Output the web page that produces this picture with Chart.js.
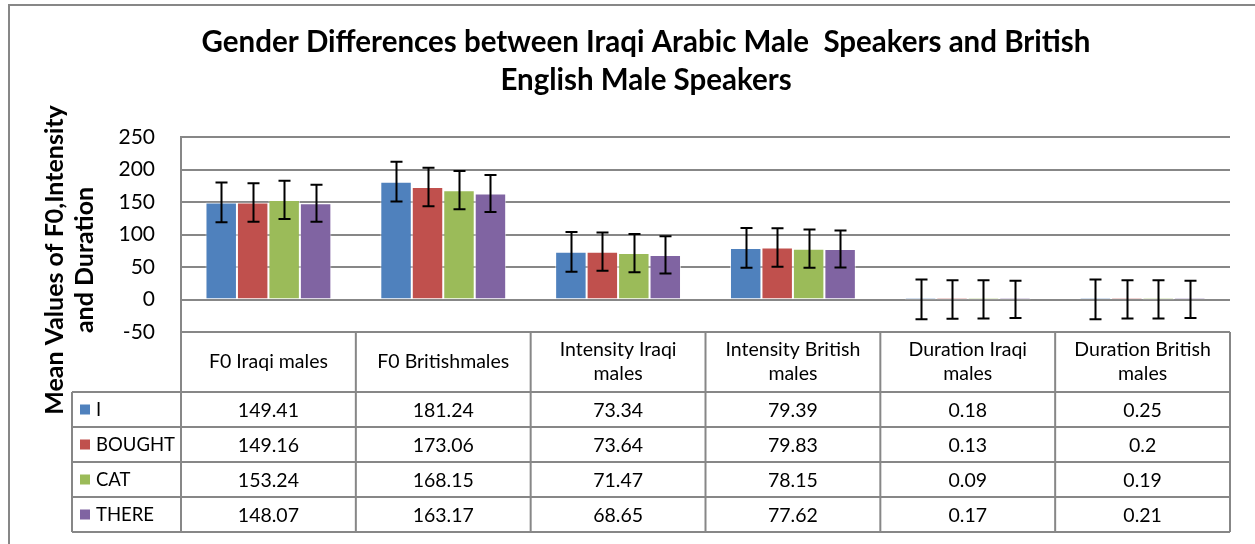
<!DOCTYPE html>
<html>
<head>
<meta charset="utf-8">
<script src="https://cdn.jsdelivr.net/npm/chart.js@4"></script>
<style>
  html, body { margin: 0; padding: 0; background: #fff; }
  #wrap { width: 1255px; height: 544px; }
</style>
</head>
<body>
<div id="wrap"><canvas id="chart" width="1255" height="544"></canvas></div>
<script>
// data
const categories = [
    ['F0 Iraqi males'],
    ['F0 Britishmales'],
    ['Intensity Iraqi', 'males'],
    ['Intensity British', 'males'],
    ['Duration Iraqi', 'males'],
    ['Duration British', 'males']
];
const seriesNames = ['I', 'BOUGHT', 'CAT', 'THERE'];
const valuesI = [149.41, 181.24, 73.34, 79.39, 0.18, 0.25];
const valuesBought = [149.16, 173.06, 73.64, 79.83, 0.13, 0.2];
const valuesCat = [153.24, 168.15, 71.47, 78.15, 0.09, 0.19];
const valuesThere = [148.07, 163.17, 68.65, 77.62, 0.17, 0.21];
// error bar sizes (standard error)
const errorSizes = [30.5, 29.6, 29.4, 28.5];
const seriesColors = ['#4F81BD', '#C0504D', '#9BBB59', '#8064A2'];
const yTicks = [250, 200, 150, 100, 50, 0, -50];

const titleLines = ['Gender Differences between Iraqi Arabic Male  Speakers and British', 'English Male Speakers'];
const yTitleLines = ['Mean Values of F0,Intensity', 'and Duration'];

const FONT = 'Lato, "Open Sans", sans-serif';
const LINE = '#878787';

const allValues = [valuesI, valuesBought, valuesCat, valuesThere];

// frame, titles
const decorPlugin = {
    id: 'decor',
    beforeDraw(chart) {
        const ctx = chart.ctx;
        ctx.save();
        ctx.strokeStyle = LINE;
        ctx.lineWidth = 2;
        ctx.strokeRect(9, 5, 1400, 700);

        ctx.fillStyle = '#000';
        ctx.font = 'bold 29.5px ' + FONT;
        ctx.textAlign = 'center';
        ctx.textBaseline = 'middle';
        ctx.fillText(titleLines[0], 646, 42);
        ctx.fillText(titleLines[1], 646, 80);

        ctx.font = 'bold 25px ' + FONT;
        ctx.save();
        ctx.translate(55, 260);
        ctx.rotate(-Math.PI / 2);
        ctx.fillText(yTitleLines[0], 0, 0);
        ctx.fillText(yTitleLines[1], 0, 30);
        ctx.restore();
        ctx.restore();
    }
};

// error bars
const errorBarPlugin = {
    id: 'errorBars',
    afterDatasetsDraw(chart) {
        const ctx = chart.ctx;
        const y = chart.scales.y;
        ctx.save();
        ctx.strokeStyle = '#000';
        ctx.lineWidth = 2;
        chart.data.datasets.forEach((ds, di) => {
            const meta = chart.getDatasetMeta(di);
            meta.data.forEach((bar, i) => {
                const v = ds.data[i];
                const top = y.getPixelForValue(v + errorSizes[di]);
                const bot = y.getPixelForValue(v - errorSizes[di]);
                const x = Math.round(bar.x) + 0.5;
                ctx.beginPath();
                ctx.moveTo(x, top);
                ctx.lineTo(x, bot);
                ctx.moveTo(x - 6, top);
                ctx.lineTo(x + 6, top);
                ctx.moveTo(x - 6, bot);
                ctx.lineTo(x + 6, bot);
                ctx.stroke();
            });
        });
        ctx.restore();
    }
};

// data table under the plot
const dataTablePlugin = {
    id: 'dataTable',
    afterDraw(chart) {
        const ctx = chart.ctx;
        const xs = chart.scales.x;
        const area = chart.chartArea;
        const band = (area.right - area.left) / categories.length;
        const headTop = area.bottom;
        const headBottom = headTop + 60;
        const rowH = 35;
        const tableLeft = 72;
        const tableBottom = headBottom + rowH * seriesNames.length;

        ctx.save();
        ctx.strokeStyle = LINE;
        ctx.lineWidth = 2;
        ctx.beginPath();
        ctx.moveTo(area.left, headTop);
        ctx.lineTo(area.right, headTop);
        for (let r = 0; r <= seriesNames.length; r++) {
            const yy = headBottom + r * rowH;
            ctx.moveTo(tableLeft, yy);
            ctx.lineTo(area.right, yy);
        }
        for (let c = 0; c <= categories.length; c++) {
            const xx = area.left + c * band;
            ctx.moveTo(xx, headTop);
            ctx.lineTo(xx, tableBottom);
        }
        ctx.moveTo(tableLeft, headBottom);
        ctx.lineTo(tableLeft, tableBottom);
        ctx.stroke();

        ctx.fillStyle = '#000';
        ctx.font = '19.5px ' + FONT;
        ctx.textAlign = 'center';
        ctx.textBaseline = 'middle';
        categories.forEach((lines, c) => {
            const cx = xs.getPixelForValue(c);
            const mid = (headTop + headBottom) / 2;
            const lh = 24;
            lines.forEach((ln, k) => {
                ctx.fillText(ln, cx, mid + (k - (lines.length - 1) / 2) * lh);
            });
            allValues.forEach((vals, r) => {
                ctx.fillText(String(vals[c]), cx, headBottom + r * rowH + rowH / 2 + 1);
            });
        });

        ctx.textAlign = 'left';
        ctx.font = '18.5px ' + FONT;
        seriesNames.forEach((name, r) => {
            const cy = headBottom + r * rowH + rowH / 2;
            ctx.fillStyle = seriesColors[r];
            ctx.fillRect(80, cy - 5, 10, 10);
            ctx.fillStyle = '#000';
            ctx.fillText(name, 96, cy + 1);
        });
        ctx.restore();
    }
};

new Chart(document.getElementById('chart'), {
    type: 'bar',
    data: {
        labels: categories,
        datasets: seriesNames.map((name, i) => ({
            label: name,
            data: allValues[i],
            backgroundColor: seriesColors[i],
            borderColor: 'rgba(255,255,255,0.6)',
            borderWidth: 1,
            categoryPercentage: 0.72,
            barPercentage: 1.0
        }))
    },
    options: {
        responsive: false,
        animation: false,
        devicePixelRatio: 1,
        layout: { padding: { top: 137, bottom: 212, right: 25, left: 0 } },
        plugins: {
            legend: { display: false },
            title: { display: false },
            tooltip: { enabled: false }
        },
        scales: {
            x: { display: false },
            y: {
                min: -50,
                max: 250,
                afterFit(scale) { scale.width = 181; },
                afterBuildTicks(scale) { scale.ticks = yTicks.map(v => ({ value: v })); },
                ticks: {
                    padding: 26,
                    color: '#000',
                    font: { family: FONT, size: 21 }
                },
                grid: { color: LINE, lineWidth: 2, drawTicks: false },
                border: { display: true, color: LINE, width: 2 }
            }
        }
    },
    plugins: [decorPlugin, errorBarPlugin, dataTablePlugin]
});
</script>
</body>
</html>
